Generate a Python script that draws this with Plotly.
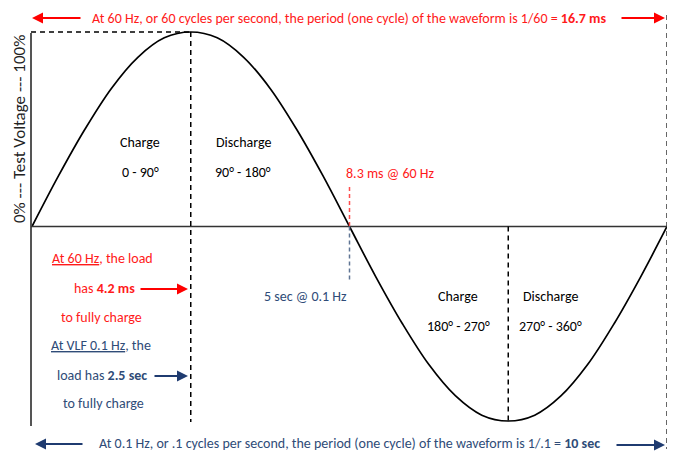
import plotly.graph_objects as go

# ---- data ----
phase_deg = [0, 15, 30, 45, 60, 75, 90, 105, 120, 135, 150, 165, 180,
             195, 210, 225, 240, 255, 270, 285, 300, 315, 330, 345, 360]
voltage = [0, 0.26, 0.5, 0.71, 0.87, 0.97, 1.0, 0.97, 0.87, 0.71, 0.5, 0.26, 0,
           -0.26, -0.5, -0.71, -0.87, -0.97, -1.0, -0.97, -0.87, -0.71, -0.5, -0.26, 0]
quarter_marks = [90, 180, 270, 360]
segment_titles = ["Charge", "Discharge", "Charge", "Discharge"]
segment_ranges = ["0 - 90°", "90° - 180°", "180° - 270°", "270° - 360°"]

W, H = 675, 452
OFF = 8  # page offset of the plot div (default body margin)
SX = (667 - 32) / 360.0
SY = (421 - 32) / 2.0
def px(x):  # window pixel -> data x
    return (x - 32) / SX
def py(y):  # window pixel -> data y
    return (226.5 - y) / SY

FONT = "Carlito, Lato, sans-serif"
RED = "#ff1a1a"
BLUE_T = "#2f4c78"
BLUE_A = "#1f3b70"
FS = 14
DASH = "5px,4px"

fig = go.Figure()
fig.add_trace(go.Scatter(x=phase_deg, y=voltage, mode="lines",
                         line=dict(color="black", width=1.7, shape="spline", smoothing=1.0),
                         hoverinfo="skip", showlegend=False))

shapes = []
shapes.append(dict(type="line", x0=px(31), x1=px(31), y0=py(33), y1=py(426),
                   line=dict(color="#555555", width=2)))
shapes.append(dict(type="line", x0=px(31), x1=px(668), y0=0, y1=0,
                   line=dict(color="#333333", width=1.5)))
shapes.append(dict(type="line", x0=px(31), x1=quarter_marks[0], y0=1, y1=1,
                   line=dict(color="black", width=1.5, dash=DASH)))
shapes.append(dict(type="line", x0=quarter_marks[0], x1=quarter_marks[0], y0=1, y1=py(422),
                   line=dict(color="black", width=1.5, dash=DASH)))
shapes.append(dict(type="line", x0=quarter_marks[1], x1=quarter_marks[1], y0=py(187), y1=0,
                   line=dict(color="#ff4d4d", width=1.5, dash="4px,3px")))
shapes.append(dict(type="line", x0=quarter_marks[1], x1=quarter_marks[1], y0=0, y1=py(281),
                   line=dict(color="#5f7594", width=1.5, dash="4px,3px")))
shapes.append(dict(type="line", x0=quarter_marks[2], x1=quarter_marks[2], y0=0, y1=-1,
                   line=dict(color="black", width=1.5, dash=DASH)))
shapes.append(dict(type="line", x0=quarter_marks[3], x1=quarter_marks[3], y0=py(15), y1=py(449),
                   line=dict(color="#333333", width=1.5, dash=DASH)))

annotations = []
def txt(x, y, text, color="black", size=FS, xanchor="center"):
    annotations.append(dict(x=px(x), y=py(y), text=text, showarrow=False,
                            xanchor=xanchor, yanchor="middle",
                            font=dict(family=FONT, size=size, color=color)))
def arrow(x_from, x_to, y, color):
    annotations.append(dict(x=px(x_to), y=py(y), ax=px(x_from), ay=py(y),
                            xref="x", yref="y", axref="x", ayref="y", text="",
                            showarrow=True, arrowhead=2, arrowsize=1.1, arrowwidth=2,
                            arrowcolor=color))

seg_centers = [(140, 142), (243, 142), (458, 296), (550, 296)]
for (cx, cy), t, r in zip(seg_centers, segment_titles, segment_ranges):
    txt(cx, cy, t)
    txt(cx, cy + 30, r)

txt(390, 173, "8.3 ms @ 60 Hz", RED)
txt(305, 296, "5 sec @ 0.1 Hz", BLUE_T)

txt(102, 258, "<u>At 60 Hz</u>, the load", RED)
txt(104, 288, "has <b>4.2 ms</b>", RED)
txt(101, 317, "to fully charge", RED)
txt(101, 345, "<u>At VLF 0.1 Hz</u>, the", BLUE_T)
txt(102, 375, "load has <b>2.5 sec</b>", BLUE_T)
txt(103, 403, "to fully charge", BLUE_T)
arrow(139, 188, 289, "#ff0000")
arrow(153, 188, 376, BLUE_A)

txt(349, 18, "At 60 Hz, or 60 cycles per second, the period (one cycle) of the waveform is 1/60 = <b>16.7 ms</b>", RED)
arrow(82, 32, 18, "#ff0000")
arrow(620, 665, 18, "#ff0000")
txt(349, 443, "At 0.1 Hz, or .1 cycles per second, the period (one cycle) of the waveform is 1/.1 = <b>10 sec</b>", BLUE_T)
arrow(84, 35, 444, BLUE_A)
arrow(615, 665, 445, BLUE_A)

annotations.append(dict(x=px(19), y=py(129), text="0% --- Test Voltage --- 100%",
                        showarrow=False, textangle=-90, xanchor="center", yanchor="middle",
                        font=dict(family=FONT, size=17, color="#222222")))

fig.update_layout(
    width=W, height=H,
    margin=dict(l=0, r=0, t=0, b=0),
    paper_bgcolor="white", plot_bgcolor="white",
    xaxis=dict(range=[px(OFF), px(OFF + W)], visible=False, fixedrange=True),
    yaxis=dict(range=[py(OFF + H), py(OFF)], visible=False, fixedrange=True),
    shapes=shapes, annotations=annotations,
    showlegend=False,
)
fig.write_html("out.html")
